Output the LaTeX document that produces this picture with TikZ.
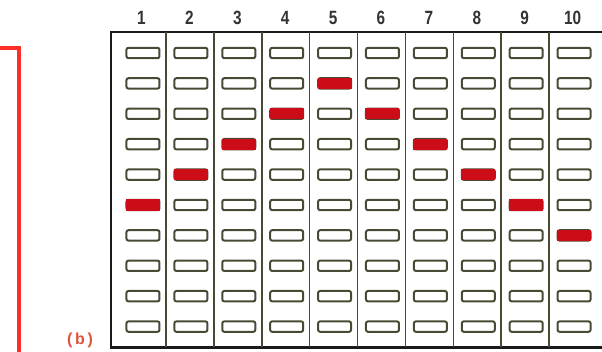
\documentclass[tikz,border=0pt]{standalone}
\usepackage{fontspec}
\setsansfont{Liberation Sans}
\newfontfamily\numfont[FakeStretch=0.8]{Liberation Sans}
\usetikzlibrary{positioning}
\definecolor{slotline}{RGB}{72,74,52}
\definecolor{bandred}{RGB}{204,12,22}
\definecolor{markred}{RGB}{250,48,40}
\definecolor{labred}{RGB}{222,84,58}

\begin{document}
\begin{tikzpicture}[x=0.5pt, y=-0.5pt,
  slot/.style={draw=slotline, line width=1pt, rounded corners=1pt,
               minimum width=16.5pt, minimum height=5.2pt, inner sep=0pt},
  band/.style={fill=bandred, minimum width=17pt, minimum height=5.6pt, inner sep=0pt},
  lane/.style={draw=slotline, line width=0.8pt},
  num/.style={font=\numfont\fontsize{9.6}{10}\selectfont\bfseries, text=black!80, inner sep=0pt}]
\useasboundingbox (0,0) rectangle (602,352);
\clip (0,0) rectangle (602,352);
% red bracket at the left edge
\coordinate (brk0) at (-5,48);
\coordinate (brk1) at (19,48);
\coordinate (brk2) at (19,360);
\draw[markred, line width=1.7pt] (brk0) -- (brk1) -- (brk2);
% panel label
\node[font=\sffamily\fontsize{8}{9}\selectfont\bfseries, text=labred] (lab) at (80,340) {(\,b\,)};
% frame and lanes
\draw[black!90, line width=1.3pt] (620,32) -- (111,32) -- (111,347.5) -- (620,347.5);
\foreach \k in {1,...,9}
  \draw[lane] ({166+47.9*(\k-1)},32) -- ({166+47.9*(\k-1)},347.5);
% lane numbers and slots
\foreach \i in {1,...,10} {
  \node[num] (n\i) at ({141.5+47.9*(\i-1)},18) {\i};
  \foreach \j in {1,...,10}
    \node[slot] (s\i-\j) at ({143+47.9*(\i-1)},{53+30.4*(\j-1)}) {};
}
% red bands
\foreach \i/\j in {1/6,2/5,3/4,4/3,5/2,6/3,7/4,8/5,9/6,10/7}
  \node[band] (b\i) at (s\i-\j) {};
\end{tikzpicture}
\end{document}
